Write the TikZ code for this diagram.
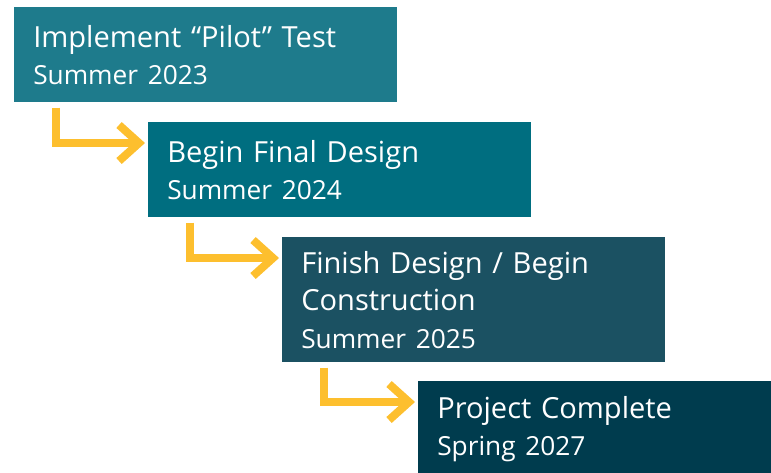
\documentclass[tikz,border=0pt]{standalone}
\usepackage{fontspec}
\setmainfont{Open Sans}
\usetikzlibrary{arrows.meta,positioning}

\definecolor{stageone}{HTML}{1E7B8C}
\definecolor{stagetwo}{HTML}{006E80}
\definecolor{stagethree}{HTML}{1B5162}
\definecolor{stagefour}{HTML}{003C4E}
\definecolor{flowyellow}{HTML}{FDBF2E}

\newcommand{\when}[1]{{\fontsize{19.7pt}{27pt}\selectfont #1}}

\tikzset{
  stagebox/.style={rectangle, anchor=north west, text=white, align=left,
    inner xsep=14.25pt, inner ysep=0pt, text width=258.75pt,
    font=\fontsize{21.8pt}{28pt}\selectfont},
  flow/.style={line width=6pt, draw=flowyellow,
    -{Straight Barb[length=15pt, width=27pt]}}
}

\begin{document}
\begin{tikzpicture}[x=0.75pt, y=-0.75pt]
\useasboundingbox (0,0) rectangle (771,472);

% Stages
\node[stagebox, fill=stageone, minimum height=71.25pt] (pilot) at (14,7)
  {Implement “Pilot” Test\\\when{Summer 2023}};
\node[stagebox, fill=stagetwo, minimum height=71.25pt] (final) at (148,122)
  {Begin Final Design\\\when{Summer 2024}};
\node[stagebox, fill=stagethree, minimum height=93.75pt] (build) at (282,237)
  {Finish Design / Begin\\Construction\\\when{Summer 2025}};
\node[stagebox, fill=stagefour, minimum height=72pt] (done) at (418,381)
  {Project Complete\\\when{Spring 2027}};

% Arrows
\draw[flow] ([xshift=31.5pt, yshift=-3.75pt]pilot.south west) |- ([xshift=-2.25pt, yshift=-15.75pt]final.north west);
\draw[flow] ([xshift=31.5pt, yshift=-3.75pt]final.south west) |- ([xshift=-2.25pt, yshift=-15.75pt]build.north west);
\draw[flow] ([xshift=31.5pt, yshift=-3.75pt]build.south west) |- ([xshift=-2.25pt, yshift=-15.75pt]done.north west);
\end{tikzpicture}
\end{document}
